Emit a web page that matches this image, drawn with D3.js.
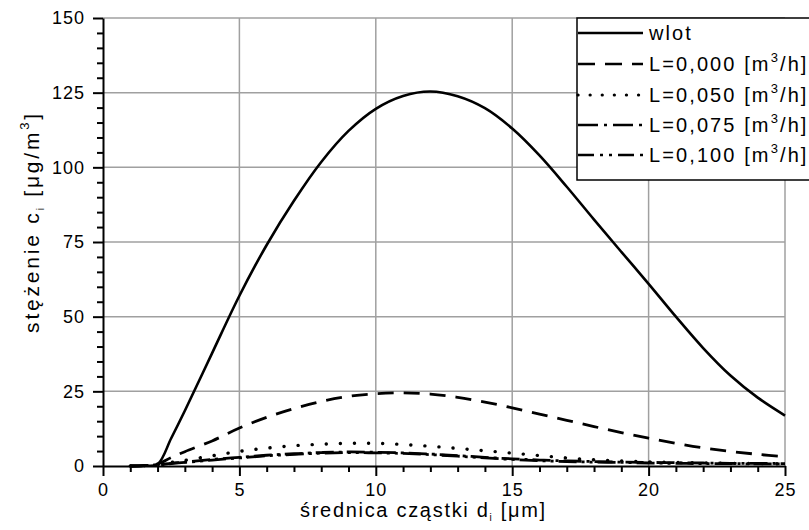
<!DOCTYPE html>
<html>
<head>
<meta charset="utf-8">
<script src="https://cdn.jsdelivr.net/npm/d3@7/dist/d3.min.js"></script>
<style>
  html, body { margin: 0; padding: 0; background: #fff; }
  svg { display: block; }
  text { font-family: "Liberation Sans", Arial, sans-serif; fill: #000; }
</style>
</head>
<body>
<svg id="chart" width="809" height="530"></svg>
<script>
// ---- data ----
const xs     = [1, 1.5, 2, 2.5, 3, 4, 5, 6, 7, 8, 9, 10, 11, 12, 13, 14, 15, 16, 17, 18, 19, 20, 21, 22, 23, 24, 25];
const wlot   = [0, 0.1, 0.6, 9.3, 18.5, 37.8, 57, 74.0, 88.8, 101.8, 112.2, 119.6, 123.9, 125.4, 123.8, 119.8, 113, 104, 93.5, 82.5, 71.7, 61.0, 50.0, 39.5, 30.3, 22.9, 16.9];
const L000   = [0, 0.1, 0.7, 2.8, 4.8, 8.4, 12.7, 16.3, 19.2, 21.6, 23.3, 24.2, 24.5, 24.1, 23.0, 21.4, 19.5, 17.4, 15.3, 13.2, 11.2, 9.3, 7.6, 6.1, 4.9, 3.9, 3.1];
const L050   = [0, 0.1, 0.5, 1.2, 1.9, 3.4, 4.9, 6.0, 6.8, 7.3, 7.6, 7.6, 7.2, 6.6, 5.9, 5.1, 4.3, 3.5, 2.7, 2.1, 1.7, 1.4, 1.2, 1.0, 0.9, 0.8, 0.7];
const L075   = [0, 0.1, 0.4, 0.9, 1.3, 2.2, 2.9, 3.6, 4.1, 4.5, 4.7, 4.6, 4.4, 4.0, 3.5, 2.9, 2.4, 2.0, 1.7, 1.5, 1.3, 1.2, 1.1, 1.0, 0.9, 0.9, 0.8];
const L100   = [0, 0.1, 0.35, 0.8, 1.2, 2.0, 2.7, 3.4, 3.9, 4.3, 4.5, 4.4, 4.2, 3.8, 3.3, 2.7, 2.2, 1.8, 1.5, 1.3, 1.2, 1.0, 0.9, 0.8, 0.8, 0.7, 0.7];
const seriesNames = ["wlot", "L=0,000 [m", "L=0,050 [m", "L=0,075 [m", "L=0,100 [m"];
const xTicks = [0, 5, 10, 15, 20, 25];
const yTicks = [0, 25, 50, 75, 100, 125, 150];

// ---- layout ----
const svg = d3.select("#chart");
const pLeft = 103, pRight = 785, pTop = 18, pBottom = 466;
const x = d3.scaleLinear().domain([0, 25]).range([pLeft, pRight]);
const y = d3.scaleLinear().domain([0, 150]).range([pBottom, pTop]);

const styles = [
  { dash: null, cap: "butt", w: 2.6 },
  { dash: "16,10", cap: "butt", w: 2.8 },
  { dash: "0.1,14", cap: "round", w: 3.4 },
  { dash: "18,5,3,5", cap: "butt", w: 2.8 },
  { dash: "18,5,3,5,3,5", cap: "butt", w: 2.8 }
];
const legendDash = [null, "17,10", "0.1,12", "20,6,3,6", "16,6,3,6,3,6"];

// grid
const grid = svg.append("g").attr("stroke", "#a0a0a0").attr("stroke-width", 1.5);
xTicks.filter(d => d > 0).forEach(d => {
  grid.append("line").attr("x1", x(d)).attr("x2", x(d)).attr("y1", y(150)).attr("y2", y(0));
});
yTicks.filter(d => d > 0).forEach(d => {
  grid.append("line").attr("x1", x(0)).attr("x2", x(25)).attr("y1", y(d)).attr("y2", y(d));
});

// curves
const allSeries = [wlot, L000, L050, L075, L100];
const line = d3.line().x(d => x(d[0])).y(d => y(Math.max(0, d[1]))).curve(d3.curveCatmullRom.alpha(0.5));
allSeries.forEach((s, i) => {
  const pts = xs.map((xv, j) => [xv, s[j]]);
  svg.append("path")
    .attr("d", line(pts))
    .attr("fill", "none")
    .attr("stroke", "#000")
    .attr("stroke-width", styles[i].w)
    .attr("stroke-linecap", styles[i].cap)
    .attr("stroke-dasharray", styles[i].dash);
});

// axes
const xMinor = d3.range(0, 26, 1).filter(d => d % 5 !== 0);
const yMinor = d3.range(0, 151, 5).filter(d => d % 25 !== 0);

const gx = svg.append("g").attr("transform", `translate(0,${pBottom})`);
gx.call(d3.axisBottom(x).tickValues(xTicks).tickSize(10).tickSizeOuter(0).tickPadding(5).tickFormat(d3.format("d")));
gx.append("g").call(d3.axisBottom(x).tickValues(xMinor).tickSize(6).tickFormat(""))
  .call(g => g.select(".domain").remove());

const gy = svg.append("g").attr("transform", `translate(${pLeft},0)`);
gy.call(d3.axisLeft(y).tickValues(yTicks).tickSize(10).tickSizeOuter(0).tickPadding(8).tickFormat(d3.format("d")));
gy.append("g").call(d3.axisLeft(y).tickValues(yMinor).tickSize(6).tickFormat(""))
  .call(g => g.select(".domain").remove());

[gx, gy].forEach(g => {
  g.selectAll(".domain").attr("stroke", "#000").attr("stroke-width", 2);
  g.selectAll(".tick line").attr("stroke", "#000").attr("stroke-width", 2);
  g.selectAll(".tick text")
    .style("font-family", "'Liberation Sans', Arial, sans-serif")
    .style("font-size", "18px")
    .style("letter-spacing", "1px")
    .attr("fill", "#000");
});
gx.selectAll(".tick text").attr("dy", 15);

// axis titles
const xt = svg.append("text")
  .attr("x", 300).attr("y", 517)
  .style("font-size", "20px").style("letter-spacing", "1.7px");
xt.append("tspan").text("średnica cząstki d");
xt.append("tspan").text("i").style("font-size", "10px").attr("dy", 4);
xt.append("tspan").text(" [μm]").attr("dy", -4);

const yt = svg.append("text")
  .attr("transform", "translate(39,222) rotate(-90)")
  .attr("text-anchor", "middle")
  .style("font-size", "21px").style("letter-spacing", "2.8px");
yt.append("tspan").text("stężenie c");
yt.append("tspan").text("i").style("font-size", "10px").attr("dy", 5);
yt.append("tspan").text(" [μg/m").attr("dy", -5);
yt.append("tspan").text("3").style("font-size", "13px").attr("dy", -10);
yt.append("tspan").text("]").attr("dy", 10);

// legend
const lg = svg.append("g");
lg.append("rect").attr("x", 577).attr("y", 18).attr("width", 240).attr("height", 162)
  .attr("fill", "#fff").attr("stroke", "#000").attr("stroke-width", 1.5);
const rowY = [33, 64, 95, 125, 155];
seriesNames.forEach((name, i) => {
  lg.append("line").attr("x1", 578).attr("x2", 643).attr("y1", rowY[i]).attr("y2", rowY[i])
    .attr("stroke", "#000").attr("stroke-width", i === 2 ? 3.2 : 2.6)
    .attr("stroke-linecap", i === 2 ? "round" : "butt")
    .attr("stroke-dasharray", legendDash[i]);
  const t = lg.append("text").attr("x", 649).attr("y", rowY[i] + 7)
    .style("font-size", "20px").style("letter-spacing", "2.1px");
  t.append("tspan").text(name);
  if (i > 0) {
    t.append("tspan").text("3").style("font-size", "13px").attr("dy", -9);
    t.append("tspan").text("/h]").attr("dy", 9);
  }
});
</script>
</body>
</html>
